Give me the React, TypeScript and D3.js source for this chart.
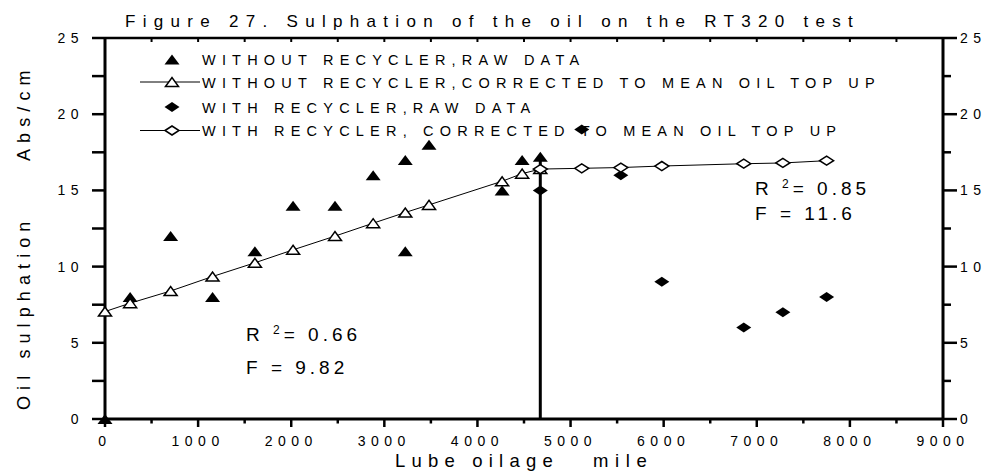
import React from "react";
import * as d3 from "d3";

const title = "Figure 27. Sulphation of the oil on the RT320 test";
const xTitleParts = ["Lube oilage", "mile"];
const yTitle = "Oil sulphation     Abs/cm";

const xTicks = [0, 1000, 2000, 3000, 4000, 5000, 6000, 7000, 8000, 9000];
const yTicks = [0, 5, 10, 15, 20, 25];

// WITHOUT RECYCLER, RAW DATA (filled triangles)
const rawNoRecX = [0, 270, 705, 1155, 1610, 2020, 2470, 2880, 3225, 3225, 3480, 4265, 4480, 4675];
const rawNoRecY = [0, 8, 12, 8, 11, 14, 14, 16, 17, 11, 18, 15, 17, 17.2];

// WITHOUT RECYCLER, CORRECTED (open triangles + line)
const corrNoRecX = [0, 270, 705, 1155, 1610, 2020, 2470, 2880, 3225, 3480, 4265, 4480, 4675];
const corrNoRecY = [7.05, 7.6, 8.4, 9.35, 10.25, 11.1, 12.0, 12.85, 13.55, 14.05, 15.6, 16.1, 16.4];

// WITH RECYCLER, RAW DATA (filled diamonds)
const rawRecX = [4675, 5120, 5540, 5980, 6860, 7280, 7750];
const rawRecY = [15, 19, 16, 9, 6, 7, 8];

// WITH RECYCLER, CORRECTED (open diamonds + line)
const corrRecX = [4675, 5120, 5540, 5980, 6860, 7280, 7750];
const corrRecY = [16.4, 16.45, 16.5, 16.6, 16.75, 16.8, 16.95];

const dividerX = 4675;
const dividerTop = 17.2;

const legendLabels = [
  "WITHOUT RECYCLER,RAW DATA",
  "WITHOUT RECYCLER,CORRECTED TO MEAN OIL TOP UP",
  "WITH RECYCLER,RAW DATA",
  "WITH RECYCLER, CORRECTED TO MEAN OIL TOP UP",
];

const FONT = "'Liberation Sans', Arial, Helvetica, sans-serif";

const W = 988;
const H = 476;

const x = d3.scaleLinear().domain([0, 9000]).range([105, 943]);
const y = d3.scaleLinear().domain([0, 25]).range([419, 38]);

const tri = (cx: number, cy: number, w = 15, h = 10) =>
  `M${cx - w / 2},${cy + h / 2}L${cx},${cy - h / 2}L${cx + w / 2},${cy + h / 2}Z`;
const dia = (cx: number, cy: number, w = 15, h = 10) =>
  `M${cx - w / 2},${cy}L${cx},${cy - h / 2}L${cx + w / 2},${cy}L${cx},${cy + h / 2}Z`;

export default function App() {
  const line = d3
    .line<[number, number]>()
    .x((d) => x(d[0]))
    .y((d) => y(d[1]));
  const corrNoRec: [number, number][] = corrNoRecX.map((v, i) => [v, corrNoRecY[i]]);
  const corrRec: [number, number][] = corrRecX.map((v, i) => [v, corrRecY[i]]);

  const minorX = d3.range(500, 9000, 1000);
  const topTicks = d3.range(500, 9000, 500);
  const minorY = d3.range(2.5, 25, 5);

  const legendY = [59.5, 82, 107, 130.5];
  const lx = 172;

  return (
    <svg width={W} height={H} style={{ position: "absolute", left: 0, top: 0, background: "#fff" }}>
      <rect width={W} height={H} fill="#fff" />
      {/* title */}
      <text x={125} y={27} fontFamily={FONT} fontSize={17} letterSpacing={7.3} fill="#000" style={{ whiteSpace: "pre" }}>
        {title}
      </text>

      {/* frame */}
      <line x1={x(0)} x2={x(9000)} y1={y(25)} y2={y(25)} stroke="#000" strokeWidth={2.5} />
      <line x1={x(0)} x2={x(9000)} y1={y(0)} y2={y(0)} stroke="#000" strokeWidth={3} />
      <line x1={x(0)} x2={x(0)} y1={y(25) - 1} y2={y(0) + 1} stroke="#000" strokeWidth={3} />
      <line x1={x(9000)} x2={x(9000)} y1={y(25) - 1} y2={y(0) + 1} stroke="#000" strokeWidth={3} />

      {/* top ticks inward */}
      {topTicks.map((t) => (
        <line key={"tt" + t} x1={x(t)} x2={x(t)} y1={y(25)} y2={y(25) + 4} stroke="#000" strokeWidth={2} />
      ))}
      {/* bottom ticks */}
      {xTicks.map((t) => (
        <line key={"bx" + t} x1={x(t)} x2={x(t)} y1={y(0)} y2={y(0) + 8} stroke="#000" strokeWidth={2.5} />
      ))}
      {minorX.map((t) => (
        <line key={"bm" + t} x1={x(t)} x2={x(t)} y1={y(0)} y2={y(0) + 4.5} stroke="#000" strokeWidth={2.5} />
      ))}
      {/* left ticks */}
      {yTicks.map((t) => (
        <line key={"ly" + t} x1={x(0) - 13} x2={x(0)} y1={y(t)} y2={y(t)} stroke="#000" strokeWidth={2.5} />
      ))}
      {minorY.map((t) => (
        <line key={"lm" + t} x1={x(0) - 13} x2={x(0)} y1={y(t)} y2={y(t)} stroke="#000" strokeWidth={2.5} />
      ))}
      {/* right ticks */}
      {yTicks.map((t) => (
        <line key={"ry" + t} x1={x(9000)} x2={x(9000) + 14} y1={y(t)} y2={y(t)} stroke="#000" strokeWidth={2.5} />
      ))}
      {minorY.map((t) => (
        <line key={"rm" + t} x1={x(9000)} x2={x(9000) + 8} y1={y(t)} y2={y(t)} stroke="#000" strokeWidth={2.5} />
      ))}

      {/* tick labels */}
      {xTicks.map((t) => (
        <text key={"xl" + t} x={x(t)} y={446} textAnchor="middle" fontFamily={FONT} fontSize={14} letterSpacing={5.5} fill="#000">
          {String(t)}
        </text>
      ))}
      {yTicks.map((t) => (
        <text key={"yl" + t} x={84} y={y(t) + 5} textAnchor="end" fontFamily={FONT} fontSize={14} letterSpacing={5.5} fill="#000">
          {String(t)}
        </text>
      ))}
      {yTicks.map((t) => (
        <text key={"yr" + t} x={960} y={y(t) + 5} textAnchor="start" fontFamily={FONT} fontSize={14} letterSpacing={5.5} fill="#000">
          {String(t)}
        </text>
      ))}

      {/* axis titles */}
      <text x={395} y={467} fontFamily={FONT} fontSize={18.5} letterSpacing={6.2} fill="#000" style={{ whiteSpace: "pre" }}>
        {xTitleParts[0]}
      </text>
      <text x={593} y={467} fontFamily={FONT} fontSize={18.5} letterSpacing={6.6} fill="#000" style={{ whiteSpace: "pre" }}>
        {xTitleParts[1]}
      </text>
      <text
        transform={`translate(30,410) rotate(-90)`}
        fontFamily={FONT}
        fontSize={18}
        letterSpacing={6.1}
        fill="#000"
        style={{ whiteSpace: "pre" }}
      >
        {yTitle}
      </text>

      {/* divider */}
      <line x1={x(dividerX)} x2={x(dividerX)} y1={y(dividerTop)} y2={y(0)} stroke="#000" strokeWidth={3} />

      {/* lines */}
      <path d={line(corrNoRec) || ""} fill="none" stroke="#000" strokeWidth={1} />
      <path d={line(corrRec) || ""} fill="none" stroke="#000" strokeWidth={1} />

      {/* markers */}
      {rawNoRecX.map((v, i) => (
        <path key={"a" + i} d={tri(x(v), y(rawNoRecY[i]))} fill="#000" />
      ))}
      {rawRecX.map((v, i) => (
        <path key={"c" + i} d={dia(x(v), y(rawRecY[i]))} fill="#000" />
      ))}
      {corrNoRecX.map((v, i) => (
        <path key={"b" + i} d={tri(x(v), y(corrNoRecY[i]), 13, 9)} fill="#fff" stroke="#000" strokeWidth={1.5} />
      ))}
      {corrRecX.map((v, i) => (
        <path key={"d" + i} d={dia(x(v), y(corrRecY[i]), 14, 9)} fill="#fff" stroke="#000" strokeWidth={1.5} />
      ))}

      {/* legend */}
      <path d={tri(lx, legendY[0])} fill="#000" />
      <line x1={140} x2={200} y1={legendY[1]} y2={legendY[1]} stroke="#000" strokeWidth={1} />
      <path d={tri(lx, legendY[1], 13, 9)} fill="#fff" stroke="#000" strokeWidth={1.5} />
      <path d={dia(lx, legendY[2])} fill="#000" />
      <line x1={140} x2={200} y1={legendY[3]} y2={legendY[3]} stroke="#000" strokeWidth={1} />
      <path d={dia(lx, legendY[3], 14, 9)} fill="#fff" stroke="#000" strokeWidth={1.5} />
      {legendLabels.map((l, i) => (
        <text key={"lg" + i} x={202} y={legendY[i] + 5.5} fontFamily={FONT} fontSize={14.5} letterSpacing={6.2} fill="#000" style={{ whiteSpace: "pre" }}>
          {l}
        </text>
      ))}

      {/* annotations */}
      <text x={246} y={341} fontFamily={FONT} fontSize={19} letterSpacing={4} fill="#000" style={{ whiteSpace: "pre" }}>
        {"R "}
        <tspan fontSize={12} dy={-7}>2</tspan>
        <tspan dy={7}>{"= 0.66"}</tspan>
      </text>
      <text x={246} y={374} fontFamily={FONT} fontSize={19} letterSpacing={4} fill="#000" style={{ whiteSpace: "pre" }}>
        {"F = 9.82"}
      </text>
      <text x={755} y={195} fontFamily={FONT} fontSize={19} letterSpacing={4} fill="#000" style={{ whiteSpace: "pre" }}>
        {"R "}
        <tspan fontSize={12} dy={-7}>2</tspan>
        <tspan dy={7}>{"= 0.85"}</tspan>
      </text>
      <text x={755} y={220} fontFamily={FONT} fontSize={19} letterSpacing={4} fill="#000" style={{ whiteSpace: "pre" }}>
        {"F = 11.6"}
      </text>
    </svg>
  );
}
